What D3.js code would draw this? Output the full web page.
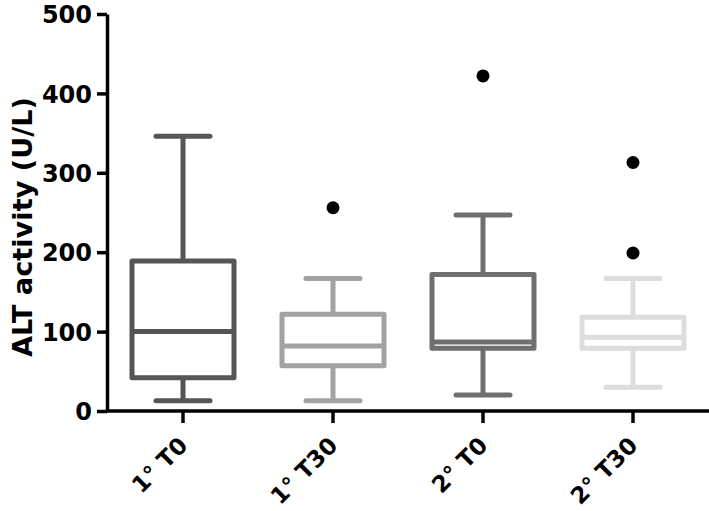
<!DOCTYPE html>
<html>
<head>
<meta charset="utf-8">
<script src="https://cdn.jsdelivr.net/npm/d3@7"></script>
<style>
  body { margin: 0; background: #fff; }
  text { font-family: "DejaVu Sans", sans-serif; font-weight: bold; }
</style>
</head>
<body>
<svg id="chart"></svg>
<script>
const categories = ["1° T0", "1° T30", "2° T0", "2° T30"];
const whiskerLow = [13, 13, 20, 30];
const q1 = [42, 57, 79, 79];
const median = [100, 82, 87, 93];
const q3 = [189, 122, 172, 118];
const whiskerHigh = [346, 167, 247, 167];
const outliers = [[], [256], [422], [313, 199]];
const colors = ["#555555", "#a2a2a2", "#6f6f6f", "#dddddd"];
const yTicks = [0, 100, 200, 300, 400, 500];

const width = 709;
const height = 511;

const svg = d3.select("#chart")
    .attr("width", width)
    .attr("height", height);

const xScale = d3.scaleBand()
    .domain(categories)
    .range([108, 708]);

const yScale = d3.scaleLinear()
    .domain([0, 500])
    .range([411, 14]);

const boxes = categories.map((c, i) => ({
    cat: c, lo: whiskerLow[i], q1: q1[i], med: median[i], q3: q3[i], hi: whiskerHigh[i],
    out: outliers[i], color: colors[i]
}));

const boxW = 102;
const capW = 54;

const g = svg.append("g");

const box = g.selectAll(".box")
    .data(boxes)
    .enter()
    .append("g")
    .attr("class", "box")
    .attr("transform", d => `translate(${xScale(d.cat) + xScale.bandwidth() / 2}, 0)`);

// whiskers
box.append("line")
    .attr("x1", 0).attr("x2", 0)
    .attr("y1", d => yScale(d.q3)).attr("y2", d => yScale(d.hi))
    .attr("stroke", d => d.color).attr("stroke-width", 5);
box.append("line")
    .attr("x1", 0).attr("x2", 0)
    .attr("y1", d => yScale(d.q1)).attr("y2", d => yScale(d.lo))
    .attr("stroke", d => d.color).attr("stroke-width", 5);
// caps
box.append("line")
    .attr("x1", -capW / 2).attr("x2", capW / 2)
    .attr("y1", d => yScale(d.hi)).attr("y2", d => yScale(d.hi))
    .attr("stroke", d => d.color).attr("stroke-width", 5).attr("stroke-linecap", "round");
box.append("line")
    .attr("x1", -capW / 2).attr("x2", capW / 2)
    .attr("y1", d => yScale(d.lo)).attr("y2", d => yScale(d.lo))
    .attr("stroke", d => d.color).attr("stroke-width", 5).attr("stroke-linecap", "round");
// box
box.append("rect")
    .attr("x", -boxW / 2)
    .attr("width", boxW)
    .attr("y", d => yScale(d.q3))
    .attr("height", d => yScale(d.q1) - yScale(d.q3))
    .attr("fill", "#fff")
    .attr("stroke", d => d.color)
    .attr("stroke-width", 5)
    .attr("stroke-linejoin", "round");
// median
box.append("line")
    .attr("x1", -boxW / 2).attr("x2", boxW / 2)
    .attr("y1", d => yScale(d.med)).attr("y2", d => yScale(d.med))
    .attr("stroke", d => d.color).attr("stroke-width", 5);
// outliers
box.selectAll(".out")
    .data(d => d.out)
    .enter()
    .append("circle")
    .attr("class", "out")
    .attr("cx", 0)
    .attr("cy", d => yScale(d))
    .attr("r", 6.5)
    .attr("fill", "#000");

// axes
const xAxis = d3.axisBottom(xScale).tickSize(12).tickSizeOuter(0).tickFormat("");
const yAxis = d3.axisLeft(yScale).tickValues(yTicks).tickSize(10).tickSizeOuter(0).tickPadding(5);

const xg = svg.append("g")
    .attr("transform", `translate(0, 411)`)
    .call(xAxis);
xg.select(".domain").attr("stroke-width", 3.5).attr("d", "M106,0H709");
xg.selectAll(".tick line").attr("stroke-width", 3.5);

xg.selectAll(".tick")
    .append("text")
    .attr("fill", "#000")
    .attr("font-size", 23)
    .attr("text-anchor", "end")
    .attr("transform", "translate(6, 36) rotate(-45)")
    .text(d => d);

const yg = svg.append("g")
    .attr("transform", `translate(107, 0)`)
    .call(yAxis);
yg.select(".domain").attr("stroke-width", 3.5);
yg.selectAll(".tick line").attr("stroke-width", 3.5);
yg.selectAll(".tick text")
    .attr("fill", "#000")
    .attr("font-size", 24)
    .attr("dy", "0.36em");

svg.append("text")
    .attr("transform", "translate(32, 227) rotate(-90)")
    .attr("text-anchor", "middle")
    .attr("font-size", 26)
    .attr("textLength", 260)
    .attr("lengthAdjust", "spacingAndGlyphs")
    .text("ALT activity (U/L)");
</script>
</body>
</html>
